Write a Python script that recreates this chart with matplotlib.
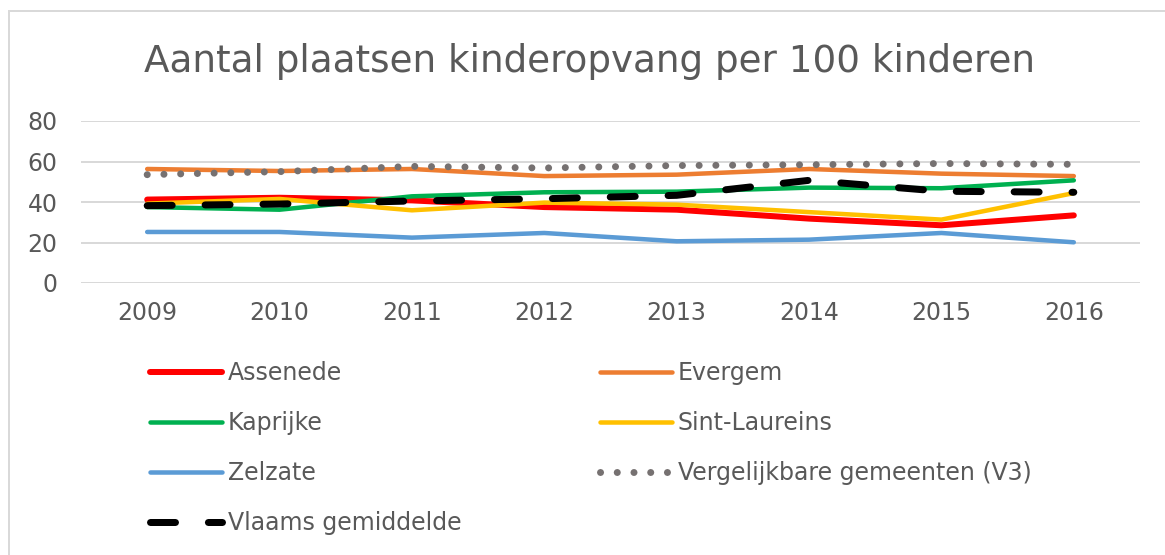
import matplotlib
matplotlib.use("Agg")
import matplotlib.pyplot as plt
from matplotlib.lines import Line2D

years = ["2009", "2010", "2011", "2012", "2013", "2014", "2015", "2016"]
assenede = [41.2, 42.1, 40.8, 37.5, 36.2, 31.8, 28.5, 33.4]
evergem = [56.3, 55.3, 56.3, 52.8, 53.5, 56.3, 54.0, 52.8]
kaprijke = [37.5, 36.2, 42.8, 44.8, 45.1, 47.1, 46.8, 50.7]
sint_laureins = [39.2, 41.5, 35.9, 39.7, 38.7, 35.0, 31.3, 44.4]
zelzate = [25.2, 25.2, 22.4, 24.7, 20.6, 21.4, 24.7, 20.1]
vergelijkbaar = [53.5, 55.0, 57.6, 56.8, 58.0, 58.4, 59.0, 58.6]
vlaams = [38.2, 39.0, 40.5, 41.6, 43.3, 50.7, 45.3, 44.8]
y_ticks = [0, 20, 40, 60, 80]
title = "Aantal plaatsen kinderopvang per 100 kinderen"

W, H = 1165, 555
fig = plt.figure(figsize=(W / 100, H / 100), dpi=100)
ax = fig.add_axes([81 / W, 1 - 283 / H, (1140 - 81) / W, (283 - 121) / H])

txt = "#595959"
x = list(range(len(years)))

def px(p):
    return p * 0.72

ax.plot(x, assenede, color="#FF0000", lw=px(6), solid_capstyle="round", label="Assenede")
ax.plot(x, evergem, color="#ED7D31", lw=px(4.5), solid_capstyle="round", label="Evergem")
ax.plot(x, kaprijke, color="#00B050", lw=px(4.5), solid_capstyle="round", label="Kaprijke")
ax.plot(x, sint_laureins, color="#FFC000", lw=px(4.5), solid_capstyle="round", label="Sint-Laureins")
ax.plot(x, zelzate, color="#5B9BD5", lw=px(4.5), solid_capstyle="round", label="Zelzate")
ax.plot(x, vergelijkbaar, color="#767171", lw=px(7), dashes=(0.01, 2.38),
        dash_capstyle="round", label="Vergelijkbare gemeenten (V3)")
ax.plot(x, vlaams, color="black", lw=px(7), dashes=(3.57, 4.7),
        dash_capstyle="round", label="Vlaams gemiddelde")

ax.set_xlim(-0.5, len(years) - 0.5)
ax.set_ylim(0, 80)
ax.set_yticks(y_ticks)
ax.set_xticks(x)
ax.set_xticklabels(years)
ax.grid(axis="y", color="#d9d9d9", lw=px(2))
ax.set_axisbelow(True)
for s in ax.spines.values():
    s.set_visible(False)
ax.tick_params(length=0, labelsize=17, labelcolor=txt)
ax.tick_params(axis="x", pad=13)
ax.tick_params(axis="y", pad=17)

fig.text(590 / W, 1 - 62 / H, title, ha="center", va="center", fontsize=26.8, color=txt)

handles, labels = ax.get_legend_handles_labels()
order = [0, 2, 4, 6, 1, 3, 5]
leg = fig.legend([handles[i] for i in order], [labels[i] for i in order],
                 loc="upper left", bbox_to_anchor=(150 / W, 1 - 361 / H),
                 ncol=2, frameon=False, fontsize=17, handlelength=3.05,
                 handletextpad=0.25, columnspacing=5.85, labelspacing=1.1,
                 borderpad=0, borderaxespad=0)
for t in leg.get_texts():
    t.set_color(txt)

# chart border (cropped)
fig.add_artist(Line2D([9 / W, 9 / W], [0, 1 - 11 / H], color="#d9d9d9", lw=px(2)))
fig.add_artist(Line2D([9 / W, 1], [1 - 11 / H, 1 - 11 / H], color="#d9d9d9", lw=px(2)))

fig.savefig("out.png", dpi=100)
